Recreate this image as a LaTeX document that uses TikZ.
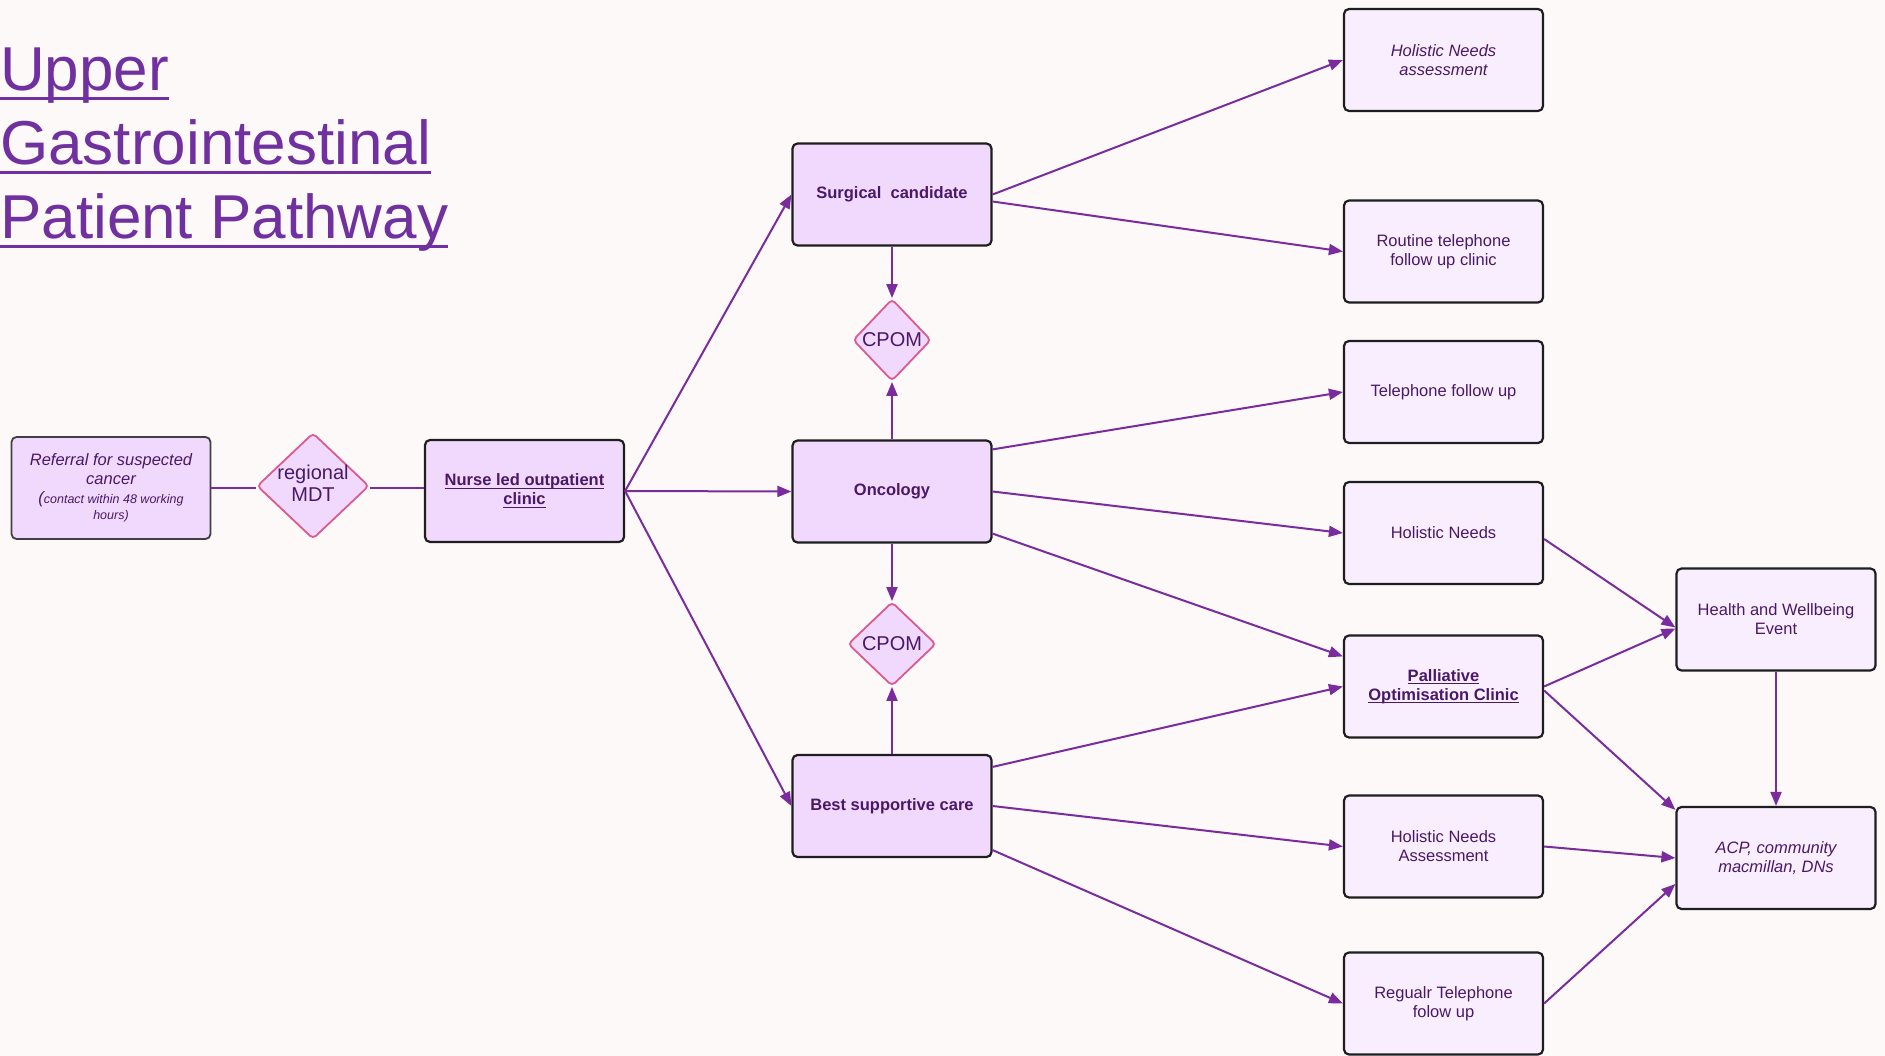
\documentclass[tikz,border=0pt]{standalone}
\usepackage{fontspec}
\setmainfont{Liberation Sans}
\usetikzlibrary{shapes.geometric,arrows.meta,calc}
\definecolor{bg}{HTML}{FDF9F9}
\definecolor{titlec}{HTML}{7030A0}
\definecolor{txt}{HTML}{4A1868}
\definecolor{conn}{HTML}{7A2C9E}
\definecolor{fillA}{HTML}{F0D9FC}
\definecolor{fillB}{HTML}{F9EEFE}
\definecolor{dpink}{HTML}{DC5A8E}
\definecolor{edge}{HTML}{1E1E1E}
\newcommand\myul[3]{\setbox0\hbox{#3}\rlap{\rule[#1]{\wd0}{#2}}\copy0}
\tikzset{
  box/.style={draw=edge, line width=2.2pt, rounded corners=5pt,
    minimum width=199pt, minimum height=102pt, align=center, text=txt,
    font=\fontsize{16.5}{19}\selectfont, inner sep=4pt},
  midbox/.style={box, fill=fillA},
  outbox/.style={box, fill=fillB},
  dia/.style={diamond, draw=dpink, line width=1.8pt, fill=fillA,
    rounded corners=4pt, inner sep=0pt, text=txt,
    font=\fontsize{20}{21.7}\selectfont},
  arr/.style={draw=conn, line width=2pt, -{Triangle[length=14pt,width=11pt]}},
  plainline/.style={draw=conn, line width=2pt},
  titletext/.style={anchor=base west, inner sep=0pt, text=titlec,
    font=\fontsize{62}{74}\selectfont}
}
\begin{document}
\begin{tikzpicture}[x=1pt,y=-1pt]
\fill[bg] (0,0) rectangle (1885,1056);
\useasboundingbox (0,0) rectangle (1885,1056);

% title
\node[titletext] (t1) at (0,90.7) {\myul{-9.5pt}{3pt}{Upper}};
\node[titletext] (t2) at (0,165) {\myul{-9.5pt}{3pt}{Gastrointestinal}};
\node[titletext] (t3) at (0,239) {\myul{-9.5pt}{3pt}{Patient Pathway}};

% left part
\node[box, fill=fillA, draw=black!75, line width=1.8pt, font=\fontsize{16.5}{19}\selectfont\itshape] (ref) at (111,488)
  {Referral for suspected\\cancer\\{\fontsize{16.5}{19}\selectfont(}{\fontsize{12.5}{14}\selectfont contact within 48 working}\\[-3.5pt]{\fontsize{12.5}{14}\selectfont hours)}};
\node[dia, minimum width=112pt, minimum height=106pt] (mdt) at (313,486)
  {\makebox[0pt]{\begin{tabular}{@{}c@{}}regional\\MDT\end{tabular}}};
\node[midbox, font=\fontsize{16.5}{19}\selectfont\bfseries] (nurse) at (524.5,491)
  {\myul{-3pt}{1.3pt}{Nurse led outpatient}\\\myul{-3pt}{1.3pt}{clinic}};

% middle column
\node[midbox, font=\fontsize{16.5}{19}\selectfont\bfseries] (surg) at (892,194.5) {Surgical\ \ candidate};
\node[dia, minimum width=78pt, minimum height=82pt] (cpomA) at (892,340) {\makebox[0pt]{CPOM}};
\node[midbox, font=\fontsize{16.5}{19}\selectfont\bfseries] (onc) at (892,491.5) {Oncology};
\node[dia, minimum width=88pt, minimum height=84pt] (cpomB) at (892,644) {\makebox[0pt]{CPOM}};
\node[midbox, font=\fontsize{16.5}{19}\selectfont\bfseries] (best) at (892,806) {Best supportive care};

% right column
\node[outbox, font=\fontsize{16.5}{19}\selectfont\itshape] (hnaA) at (1443.5,60) {Holistic Needs\\assessment};
\node[outbox] (rout) at (1443.5,251.5) {Routine telephone\\follow up clinic};
\node[outbox] (tel) at (1443.5,392) {Telephone follow up};
\node[outbox] (hn) at (1443.5,533) {Holistic Needs};
\node[outbox, font=\fontsize{16.5}{19}\selectfont\bfseries] (pal) at (1443.5,686.5)
  {\myul{-3pt}{1.3pt}{Palliative}\\\myul{-3pt}{1.3pt}{Optimisation Clinic}};
\node[outbox] (hnaB) at (1443.5,846.5) {Holistic Needs\\Assessment};
\node[outbox] (reg) at (1443.5,1003.5) {Regualr Telephone\\folow up};

% far right
\node[outbox] (hw) at (1776,619.5) {Health and Wellbeing\\Event};
\node[outbox, font=\fontsize{16.5}{19}\selectfont\itshape] (acp) at (1776,858) {ACP, community\\macmillan, DNs};

% connectors
\draw[plainline] (ref.east) -- (ref.east -| mdt.west);
\draw[plainline] (mdt.east |- ref.east) -- (nurse.west |- ref.east);

\draw[arr] (nurse.east) -- (surg.west);
\draw[arr] (nurse.east) -- (onc.west);
\draw[arr] (nurse.east) -- (best.west);

\draw[arr] (surg.south) -- (cpomA.north);
\draw[arr] (onc.north) -- (cpomA.south);
\draw[arr] (onc.south) -- (cpomB.north);
\draw[arr] (best.north) -- (cpomB.south);

\draw[arr] (surg.east) -- (hnaA.west);
\draw[arr] ($(surg.east)+(0,7)$) -- (rout.west);
\draw[arr] ($(onc.north east)+(0,10)$) -- (tel.west);
\draw[arr] (onc.east) -- (hn.west);
\draw[arr] ($(onc.south east)+(0,-10)$) -- ($(pal.north west)+(0,22)$);
\draw[arr] ($(best.north east)+(0,13)$) -- (pal.west);
\draw[arr] (best.east) -- (hnaB.west);
\draw[arr] ($(best.south east)+(0,-8)$) -- (reg.west);

\draw[arr] ($(hn.east)+(0,6)$) -- ($(hw.west)+(0,8)$);
\draw[arr] (pal.east) -- ($(hw.west)+(0,9)$);
\draw[arr] ($(pal.east)+(0,4)$) -- ($(acp.north west)+(0,4)$);
\draw[arr] (hnaB.east) -- (acp.west);
\draw[arr] (reg.east) -- ($(acp.west)+(0,26)$);
\draw[arr] (hw.south) -- (acp.north);
\end{tikzpicture}
\end{document}
